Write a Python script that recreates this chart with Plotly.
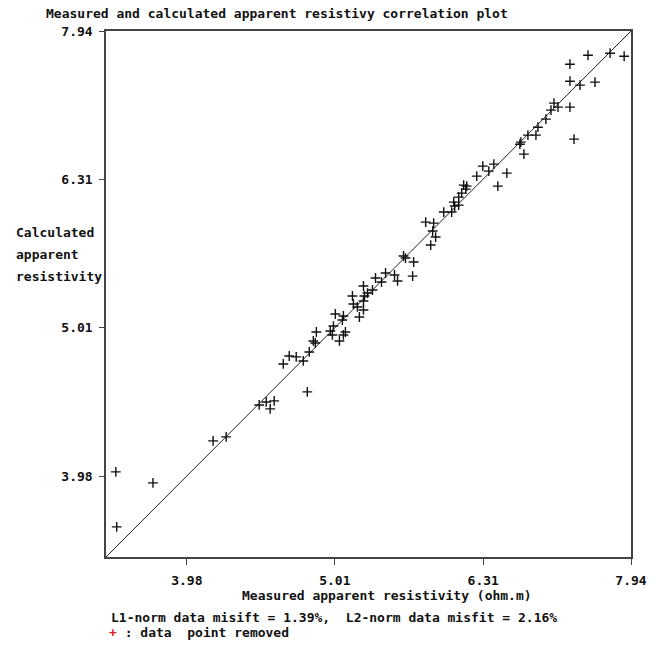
import math
import plotly.graph_objects as go

# Measured (x) and calculated (y) apparent resistivity values (ohm.m)
measured = [3.564, 3.776, 3.569, 4.146, 4.231, 4.454, 4.503, 4.531, 4.559, 4.624,
            4.667, 4.718, 4.770, 4.815, 4.845, 4.860, 4.868, 4.800, 4.975, 4.991,
            4.999, 5.014, 5.046, 5.077, 5.069, 5.093, 5.077, 5.149, 5.157, 5.189,
            5.205, 5.238, 5.238, 5.238, 5.246, 5.271, 5.312, 5.337, 5.387, 5.421,
            5.497, 5.523, 5.575, 5.592, 5.663, 5.654, 5.770, 5.842, 5.833, 5.860,
            5.815, 5.934, 6.008, 6.027, 6.036, 6.074, 6.074, 6.102, 6.121, 6.141,
            6.150, 6.247, 6.306, 6.365, 6.415, 6.455, 6.546, 6.680, 6.690, 6.722,
            6.764, 6.849, 6.870, 6.956, 7.011, 7.044, 7.088, 7.221, 7.221, 7.221,
            7.267, 7.335, 7.427, 7.508, 7.686, 7.856]
calculated = [4.006, 3.938, 3.678, 4.203, 4.229, 4.444, 4.465, 4.417, 4.472, 4.736,
              4.795, 4.788, 4.758, 4.825, 4.908, 4.893, 4.977, 4.535, 4.985, 4.954,
              5.023, 5.118, 4.908, 5.102, 5.070, 4.977, 4.954, 5.263, 5.198, 5.174,
              5.094, 5.345, 5.222, 5.150, 5.263, 5.287, 5.312, 5.412, 5.378, 5.454,
              5.437, 5.387, 5.600, 5.582, 5.548, 5.428, 5.902, 5.893, 5.821, 5.767,
              5.696, 5.995, 5.995, 6.088, 6.051, 6.136, 6.060, 6.174, 6.251, 6.212,
              6.241, 6.339, 6.438, 6.388, 6.458, 6.241, 6.368, 6.661, 6.682, 6.559,
              6.755, 6.755, 6.839, 6.925, 7.022, 7.099, 7.055, 7.541, 7.345, 7.055,
              6.713, 7.300, 7.647, 7.334, 7.671, 7.635]

tick_vals = [3.98, 5.01, 6.31, 7.94]
tick_text = ["3.98", "5.01", "6.31", "7.94"]
axis_min, axis_max = 3.51, 7.94

title_text = "Measured and calculated apparent resistivy correlation plot"
x_title = "Measured apparent resistivity (ohm.m)"
y_title_lines = ["Calculated", "apparent", "resistivity"]
misfit_text = "L1-norm data misift = 1.39%,\u00a0 L2-norm data misfit = 2.16%"
removed_text = " : data\u00a0 point removed"

FONT = "DejaVu Sans Mono"
FS = 13

fig = go.Figure()
fig.add_trace(go.Scatter(x=[axis_min, axis_max], y=[axis_min, axis_max], mode="lines",
                         line=dict(color="#222222", width=1), hoverinfo="skip",
                         showlegend=False))
fig.add_trace(go.Scatter(x=measured, y=calculated, mode="markers",
                         marker=dict(symbol="cross-thin", size=7,
                                     line=dict(color="#111111", width=1.4)),
                         showlegend=False))

axis_common = dict(type="log", range=[math.log10(axis_min), math.log10(axis_max)],
                   tickvals=tick_vals, ticktext=tick_text, showgrid=False,
                   zeroline=False, showline=True, linecolor="#444444", linewidth=1.5,
                   mirror=True, ticks="outside", tickcolor="#444444",
                   tickwidth=1.2,
                   tickfont=dict(family=FONT, size=FS, color="#111111", weight="bold"))

fig.update_layout(
    width=660, height=646,
    margin=dict(l=106, r=29, t=31, b=89),
    paper_bgcolor="white", plot_bgcolor="white",
    xaxis=dict(**axis_common, ticklen=6, ticklabelstandoff=5),
    yaxis=dict(**axis_common, ticklen=5, ticklabelstandoff=4),
)

def note(text, x, y, xanchor="left", color="#111111"):
    fig.add_annotation(text=text, x=x, y=y, xref="paper", yref="paper",
                       xanchor=xanchor, yanchor="middle", showarrow=False,
                       font=dict(family=FONT, size=FS, color=color, weight="bold"))

W, H = 525.0, 526.0
def px(xp):
    return (xp - 106) / W
def py(yp):
    return (557 - yp) / H

note(title_text, px(44), py(13))
note(x_title, px(387), py(595), xanchor="center")
for i, line in enumerate(y_title_lines):
    note(line, px(14), py(233 + 21.5 * i))
note(misfit_text, px(109), py(617))
note('<span style="color:#dd2222">+</span>' + removed_text, px(107), py(632))

fig.write_html("out.html")
